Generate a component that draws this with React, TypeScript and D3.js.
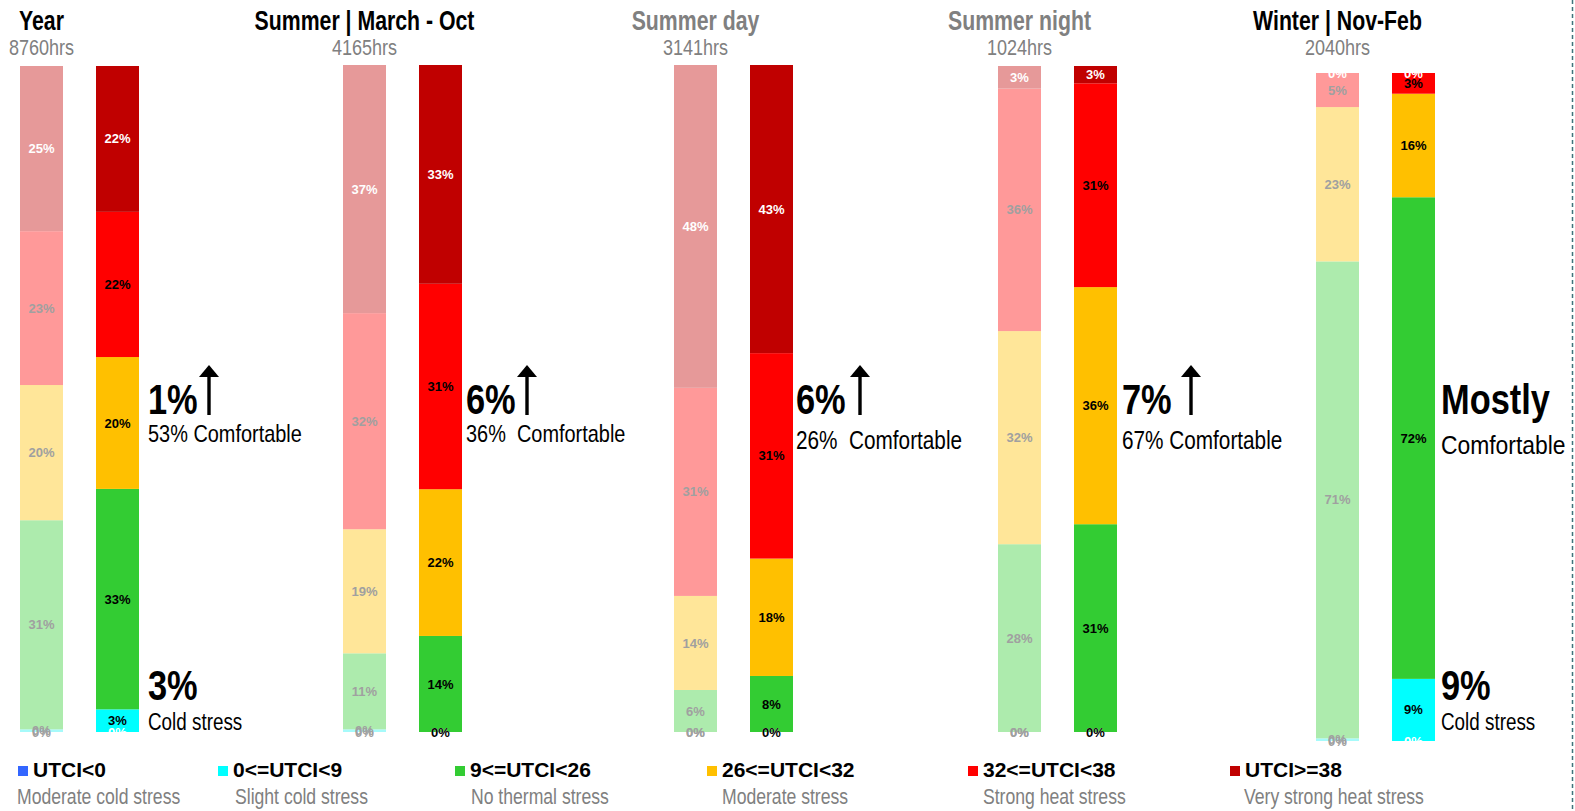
import React from 'react';
import * as d3 from 'd3';

// UTCI thermal-stress classes, bottom of the stack first
const CATEGORIES = ['UTCI<0', '0<=UTCI<9', '9<=UTCI<26', '26<=UTCI<32', '32<=UTCI<38', 'UTCI>=38'];
const STRESS_LABELS = [
  'Moderate cold stress',
  'Slight cold stress',
  'No thermal stress',
  'Moderate stress',
  'Strong heat stress',
  'Very strong heat stress',
];

// Periods
const PERIODS = ['Year', 'Summer | March - Oct', 'Summer day', 'Summer night', 'Winter | Nov-Feb'];
const HOURS = ['8760hrs', '4165hrs', '3141hrs', '1024hrs', '2040hrs'];
const TITLE_MUTED = [false, false, true, true, false];

// Share of hours (%) per class, baseline (faded bar) and scenario (solid bar)
const yearBase = [0, 0.4, 31.4, 20.3, 23.1, 24.8];
const yearScenario = [0, 3.4, 33.1, 19.8, 21.8, 21.9];
const summerBase = [0, 0.4, 11.4, 18.6, 32.4, 37.2];
const summerScenario = [0, 0, 14.4, 22.0, 30.8, 32.8];
const summerDayBase = [0, 0, 6.3, 14.1, 31.2, 48.4];
const summerDayScenario = [0, 0, 8.4, 17.6, 30.8, 43.2];
const summerNightBase = [0, 0, 28.2, 32.0, 36.4, 3.4];
const summerNightScenario = [0, 0, 31.2, 35.6, 30.6, 2.6];
const winterBase = [0, 0.4, 71.4, 23.1, 5.1, 0];
const winterScenario = [0, 9.3, 72.1, 15.5, 3.1, 0];

const BASE_SHARES = [yearBase, summerBase, summerDayBase, summerNightBase, winterBase];
const SCENARIO_SHARES = [yearScenario, summerScenario, summerDayScenario, summerNightScenario, winterScenario];

// Which panels carry the cold-stress note, and the winter wording
const SHOW_COLD = [true, false, false, false, true];
const WINTER_HEADLINE = 'Mostly';
const COMFORT_WORD = 'Comfortable';
const COLD_WORD = 'Cold stress';

// Colours
const SOLID = ['#3366FF', '#00FFFF', '#33CC33', '#FFC000', '#FF0000', '#C00000'];
const FADED = ['#99B3FF', '#A6FAFA', '#ADEBAD', '#FFE699', '#FF9999', '#E69999'];
const SOLID_TEXT = ['#FFFFFF', '#000000', '#000000', '#000000', '#000000', '#FFFFFF'];
const FADED_TEXT = ['#A0A0A0', '#A0A0A0', '#A0A0A0', '#A0A0A0', '#A0A0A0', '#FFFFFF'];

// Layout
const W = 1575;
const H = 811;
const PANEL_X = [20, 343, 674, 998, 1316];
const PANEL_TOP = [66, 65, 65, 66, 73];
const PANEL_BOTTOM = [732, 732, 732, 732, 741];
const BAR_W = 43;
const BAR_STEP = 76;
const NOTE_DX = [9, 4, 3, 5, 6];
const ARROW_DX = [61, 61, 64, 69, 0];
const COMFORT_SIZE = [24, 24, 25, 25, 26];
const COMFORT_Y = [442, 442, 449, 449, 454];
const COMFORT_GAP = [' ', '  ', '  ', ' ', ''];
const LEGEND_X = [18, 218, 455, 707, 968, 1230];
const LEGEND_SUB_DX = [-1, 17, 16, 15, 15, 14];

const FONT = "'Liberation Sans', Arial, sans-serif";
const COND = 0.8;

type Seg = { key: string; idx: number; y0: number; y1: number };

function stackShares(shares: number[]): Seg[] {
  const row: Record<string, number> = {};
  CATEGORIES.forEach((c, i) => (row[c] = shares[i]));
  const series = d3.stack<Record<string, number>>().keys(CATEGORIES)([row]);
  return series.map((s, i) => ({ key: s.key, idx: i, y0: s[0][0], y1: s[0][1] }));
}

function CText(props: {
  x: number;
  y: number;
  sx?: number;
  size: number;
  weight?: string | number;
  fill?: string;
  anchor?: string;
  children: React.ReactNode;
}) {
  const { x, y, sx = COND, size, weight = 'normal', fill = '#000', anchor = 'start', children } = props;
  return (
    <text
      transform={`translate(${x},${y}) scale(${sx},1)`}
      fontFamily={FONT}
      fontSize={size}
      fontWeight={weight}
      fill={fill}
      textAnchor={anchor}
      style={{ whiteSpace: 'pre' }}
    >
      {children}
    </text>
  );
}

function Bar(props: { x: number; y: d3.ScaleLinear<number, number>; segs: Seg[]; colors: string[]; textColors: string[] }) {
  const { x, y, segs, colors, textColors } = props;
  const cx = x + BAR_W / 2;
  return (
    <g>
      {segs.map((s) => (
        <rect key={s.key} x={x} y={y(s.y1)} width={BAR_W} height={Math.max(0, y(s.y0) - y(s.y1))} fill={colors[s.idx]} />
      ))}
      {segs.map((s) => (
        <text
          key={'t' + s.key}
          x={cx}
          y={(y(s.y0) + y(s.y1)) / 2}
          dy="0.35em"
          textAnchor="middle"
          fontFamily={FONT}
          fontWeight="bold"
          fontSize={13}
          fill={textColors[s.idx]}
        >
          {`${Math.round(s.y1 - s.y0)}%`}
        </text>
      ))}
    </g>
  );
}

function Arrow({ cx }: { cx: number }) {
  return (
    <g fill="#000">
      <rect x={cx - 1.7} y={374} width={3.4} height={41} />
      <path d={`M${cx - 10},${377} L${cx},${365} L${cx + 10},${377} Z`} />
    </g>
  );
}

function Panel({ i }: { i: number }) {
  const x0 = PANEL_X[i];
  const y = d3.scaleLinear().domain([0, 100]).range([PANEL_BOTTOM[i], PANEL_TOP[i]]);
  const xb = d3
    .scaleBand<string>()
    .domain(['base', 'scenario'])
    .range([x0, x0 + BAR_STEP + BAR_W])
    .paddingInner(1 - BAR_W / BAR_STEP)
    .paddingOuter(0);
  const base = BASE_SHARES[i];
  const scen = SCENARIO_SHARES[i];
  const baseX = xb('base') as number;
  const scenX = xb('scenario') as number;
  const titleX = baseX + BAR_W / 2;
  const noteX = scenX + BAR_W + NOTE_DX[i];

  const comfortBase = base[2] + base[3];
  const comfortScen = scen[2] + scen[3];
  const gain = Math.round(comfortScen - comfortBase);
  const cold = Math.round(scen[0] + scen[1]);
  const isWinter = i === PERIODS.length - 1;

  return (
    <g>
      <CText x={titleX} y={30} sx={0.76} size={28} weight="bold" anchor="middle" fill={TITLE_MUTED[i] ? '#808080' : '#000'}>
        {PERIODS[i]}
      </CText>
      <CText x={titleX} y={55} sx={0.82} size={22} anchor="middle" fill="#808080">
        {HOURS[i]}
      </CText>

      <Bar x={baseX} y={y} segs={stackShares(base)} colors={FADED} textColors={FADED_TEXT} />
      <Bar x={scenX} y={y} segs={stackShares(scen)} colors={SOLID} textColors={SOLID_TEXT} />

      {isWinter ? (
        <>
          <CText x={noteX} y={414} size={43} weight="bold">
            {WINTER_HEADLINE}
          </CText>
          <CText x={noteX} y={COMFORT_Y[i]} size={COMFORT_SIZE[i]} sx={0.88}>
            {COMFORT_WORD}
          </CText>
        </>
      ) : (
        <>
          <CText x={noteX} y={414} size={43} weight="bold">
            {`${gain}%`}
          </CText>
          <Arrow cx={noteX + ARROW_DX[i]} />
          <CText x={noteX} y={COMFORT_Y[i]} size={COMFORT_SIZE[i]} sx={0.83}>
            {`${Math.round(comfortScen)}%${COMFORT_GAP[i]}${COMFORT_WORD}`}
          </CText>
        </>
      )}

      {SHOW_COLD[i] && (
        <>
          <CText x={noteX} y={700} size={43} weight="bold">
            {`${cold}%`}
          </CText>
          <CText x={noteX} y={730} size={23} sx={0.82}>
            {COLD_WORD}
          </CText>
        </>
      )}
    </g>
  );
}

function Legend() {
  return (
    <g>
      {CATEGORIES.map((c, i) => (
        <g key={c}>
          <rect x={LEGEND_X[i]} y={766} width={10} height={10} fill={SOLID[i]} />
          <text x={LEGEND_X[i] + 15} y={777} fontFamily={FONT} fontWeight="bold" fontSize={21} fill="#000">
            {c}
          </text>
          <CText x={LEGEND_X[i] + LEGEND_SUB_DX[i]} y={804} size={22} sx={0.8} fill="#808080">
            {STRESS_LABELS[i]}
          </CText>
        </g>
      ))}
    </g>
  );
}

export default function App() {
  return (
    <svg
      width={W}
      height={H}
      viewBox={`0 0 ${W} ${H}`}
      style={{ position: 'absolute', left: 0, top: 0, background: '#fff', display: 'block' }}
    >
      <rect x={0} y={0} width={W} height={H} fill="#fff" />
      {PERIODS.map((p, i) => (
        <Panel key={p} i={i} />
      ))}
      <Legend />
      <line x1={1572.5} x2={1572.5} y1={0} y2={H} stroke="#3f747b" strokeWidth={1.5} strokeDasharray="4 3" />
    </svg>
  );
}
